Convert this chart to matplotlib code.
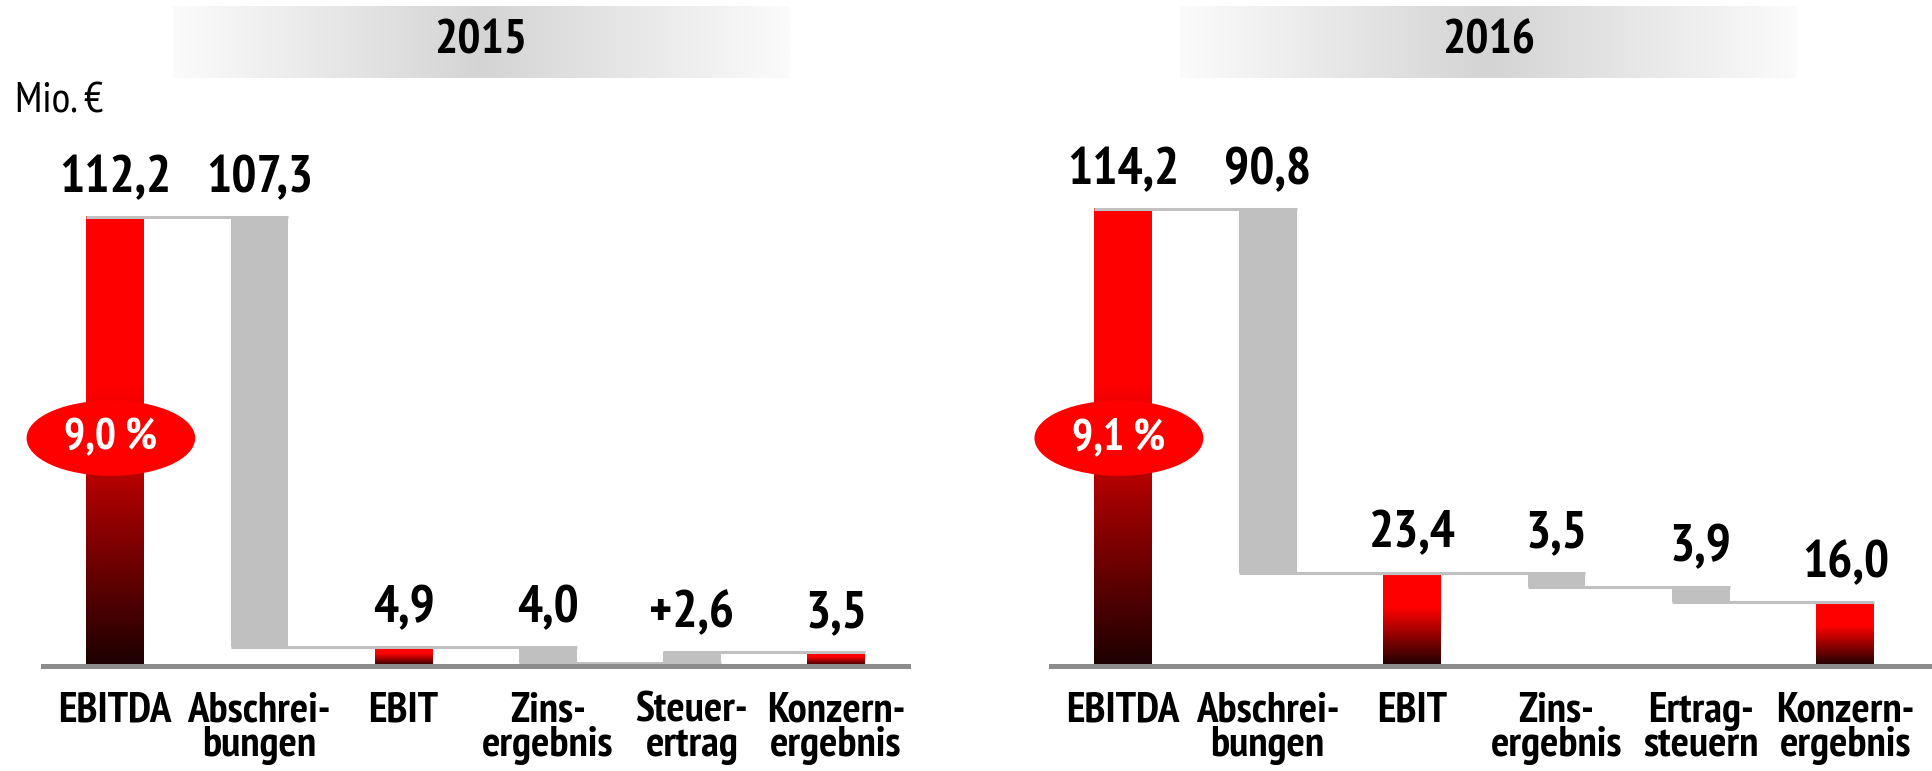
import numpy as np
import matplotlib
matplotlib.use("Agg")
import matplotlib.pyplot as plt
from matplotlib import font_manager as fm
from matplotlib.colors import LinearSegmentedColormap
from matplotlib.patches import Ellipse

# pick a narrow sans (Arial Narrow look-alike) that has a bold face
_CANDS = ["Liberation Sans Narrow", "Arial Narrow", "Archivo Narrow", "PT Sans Narrow",
          "Roboto Condensed", "Pragati Narrow", "Asap Condensed", "Encode Sans Condensed",
          "Fira Sans Condensed", "IBM Plex Sans Condensed", "Sofia Sans Condensed",
          "DejaVu Sans Condensed"]
_have = {}
for f in fm.fontManager.ttflist:
    w = f.weight if isinstance(f.weight, int) else 700 if "bold" in str(f.weight) else 400
    _have[f.name] = max(_have.get(f.name, 0), w)
FONT = next((c for c in _CANDS if _have.get(c, 0) >= 700), "DejaVu Sans")
plt.rcParams["font.family"] = [FONT, "DejaVu Sans"]

RED = "#ff0000"
GRAY = "#c0c0c0"
BASE = "#8c8c8c"

# ── data ──
YEARS = ["2015", "2016"]
CATS_2015 = ["EBITDA", "Abschrei-\nbungen", "EBIT", "Zins-\nergebnis", "Steuer-\nertrag", "Konzern-\nergebnis"]
CATS_2016 = ["EBITDA", "Abschrei-\nbungen", "EBIT", "Zins-\nergebnis", "Ertrag-\nsteuern", "Konzern-\nergebnis"]
# None = subtotal bar (red), numbers = steps
STEPS_2015 = [112.2, -107.3, None, -4.0, 2.6, None]
STEPS_2016 = [114.2, -90.8, None, -3.5, -3.9, None]
LABELS_2015 = ["112,2", "107,3", "4,9", "4,0", "+2,6", "3,5"]
LABELS_2016 = ["114,2", "90,8", "23,4", "3,5", "3,9", "16,0"]
MARGINS = ["9,0 %", "9,1 %"]

red_cmap = LinearSegmentedColormap.from_list("bar", [(0, "#1c0000"), (0.62, RED), (1, RED)])
head_cmap = LinearSegmentedColormap.from_list("head", ["#fbfbfb", "#d4d4d4", "#fbfbfb"])
grad = np.linspace(0, 1, 256)[:, None]

W = 0.4

fig = plt.figure(figsize=(19.32, 7.71), dpi=100)
fig.patch.set_facecolor("white")


def draw_panel(ax, cats, steps, labels, margin, xmax):
    run = 0.0
    n = len(steps)
    for i, (s, lab) in enumerate(zip(steps, labels)):
        if s is None or i == 0:
            if i == 0:
                run = s
            lo, hi = 0.0, run
            ax.imshow(grad, cmap=red_cmap, origin="lower", aspect="auto",
                      extent=(i - W / 2, i + W / 2, lo, hi), zorder=2)
        else:
            lo, hi = sorted((run, run + s))
            run += s
            ax.bar(i, hi - lo, bottom=lo, width=W, color=GRAY, zorder=2)
        # connector to next bar
        if i < n - 1:
            ax.hlines(run, i - W / 2, i + 1 + W / 2, color=GRAY, lw=2.2, zorder=3)
        ax.annotate(lab, (i, hi), xytext=(0, 18), textcoords="offset points",
                    ha="center", va="baseline", fontsize=38, fontweight="bold")
        ax.text(i, -6.3, cats[i], ha="center", va="top", fontsize=31,
                fontweight="bold", linespacing=0.85, clip_on=False)

    ax.axhline(0, color=BASE, lw=3.6, zorder=4, clip_on=False)
    ax.add_patch(Ellipse((-0.03, 57), 1.16, 18.5, color=RED, zorder=5, clip_on=False))
    ax.text(-0.03, 57, margin, ha="center", va="center", color="white",
            fontsize=32, fontweight="bold", zorder=6)
    ax.set_xlim(-0.5, xmax)
    ax.set_ylim(0, 140)
    ax.axis("off")


ax1 = fig.add_axes([35 / 1568, 1 - 541 / 626, 702 / 1568, 455 / 626])
ax2 = fig.add_axes([853 / 1568, 1 - 541 / 626, 715 / 1568, 455 / 626])
draw_panel(ax1, CATS_2015, STEPS_2015, LABELS_2015, MARGINS[0], 5.5)
draw_panel(ax2, CATS_2016, STEPS_2016, LABELS_2016, MARGINS[1], 5.6)

# year headers
for x0, year in zip([140, 958], YEARS):
    hax = fig.add_axes([x0 / 1568, 1 - 63 / 626, 500 / 1568, 58 / 626])
    hax.imshow(np.linspace(0, 1, 256)[None, :], cmap=head_cmap, aspect="auto")
    hax.axis("off")
    hax.text(0.5, 0.5, year, transform=hax.transAxes, ha="center", va="center",
             fontsize=35, fontweight="bold")

fig.text(12 / 1568, 1 - 83 / 626, "Mio. €", fontsize=31, va="center")

fig.savefig("out.png", dpi=100, facecolor="white")
